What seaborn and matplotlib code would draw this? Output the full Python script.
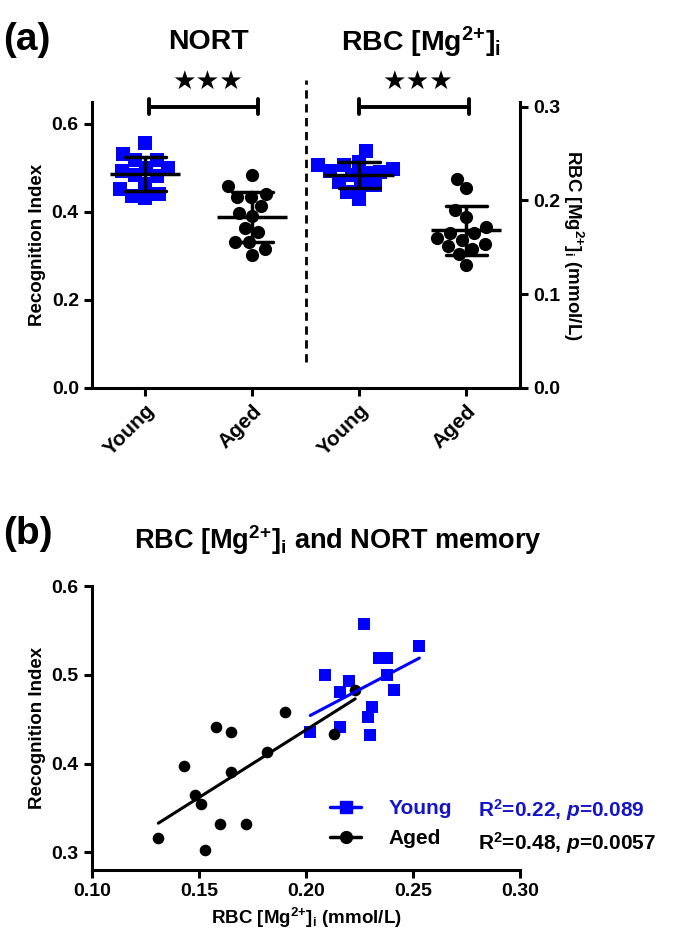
import numpy as np
import pandas as pd
import seaborn as sns
import matplotlib.pyplot as plt
from matplotlib.lines import Line2D

# ------------------------------------------------------------
# values (same 14 + 14 animals in both panels)
# ------------------------------------------------------------
young_mg = [0.202, 0.209, 0.216, 0.220, 0.216, 0.227, 0.229,
            0.231, 0.230, 0.234, 0.238, 0.238, 0.241, 0.253]
young_ri = [0.436, 0.500, 0.481, 0.493, 0.441, 0.557, 0.453,
            0.464, 0.432, 0.519, 0.519, 0.500, 0.483, 0.532]
aged_mg = [0.131, 0.153, 0.143, 0.148, 0.151, 0.158, 0.160,
           0.165, 0.165, 0.172, 0.182, 0.190, 0.213, 0.223]
aged_ri = [0.316, 0.303, 0.397, 0.364, 0.354, 0.441, 0.332,
           0.435, 0.390, 0.332, 0.413, 0.458, 0.433, 0.483]

groups = ["Young", "Aged"]
slots = ["NORT Young", "NORT Aged", "Mg Young", "Mg Aged"]
tick_labels = ["Young", "Aged", "Young", "Aged"]
MG = r"RBC [Mg$^{2{+}}$]$_{\mathrm{i}}$"
stats_text = [r"R$^{2}$=0.22, $\mathit{p}$=0.089", r"R$^{2}$=0.48, $\mathit{p}$=0.0057"]

BLUE = "#0000ff"
BLUE_TXT = "#1414c8"
colors = [BLUE, "black"]
markers = ["s", "o"]

sns.set_style("ticks")
plt.rcParams["font.family"] = ["Liberation Sans", "DejaVu Sans"]
plt.rcParams["font.weight"] = "bold"
plt.rcParams["axes.labelweight"] = "bold"
plt.rcParams["mathtext.fontset"] = "custom"
plt.rcParams["mathtext.rm"] = "Liberation Sans:bold"
plt.rcParams["mathtext.bf"] = "Liberation Sans:bold"
plt.rcParams["mathtext.it"] = "Liberation Sans:italic:bold"
plt.rcParams["mathtext.default"] = "rm"
plt.rcParams["axes.linewidth"] = 2.2
for k in ["text.color", "axes.labelcolor", "axes.edgecolor", "xtick.color", "ytick.color"]:
    plt.rcParams[k] = "black"

fig = plt.figure(figsize=(6.75, 9.46), dpi=100)

# ------------------------------------------------------------
# (a) scatter dot plots, NORT on the left axis, Mg on the right
# ------------------------------------------------------------
nort = pd.DataFrame({"slot": ["NORT Young"] * len(young_ri) + ["NORT Aged"] * len(aged_ri),
                     "value": young_ri + aged_ri})
mg = pd.DataFrame({"slot": ["Mg Young"] * len(young_mg) + ["Mg Aged"] * len(aged_mg),
                   "value": young_mg + aged_mg})

ax1 = fig.add_axes([0.1363, 0.5899, 0.634, 0.3023])
ax2 = ax1.twinx()

for ax, df, prefix in [(ax1, nort, "NORT"), (ax2, mg, "Mg")]:
    for g, col, mk in zip(groups, colors, markers):
        sns.swarmplot(data=df[df.slot == f"{prefix} {g}"], x="slot", y="value",
                      order=slots, color=col, marker=mk, size=9.5, linewidth=0,
                      ax=ax, zorder=2)
    sns.pointplot(data=df, x="slot", y="value", order=slots, errorbar="sd",
                  capsize=0.39, color="black", markers="_", linestyles="none",
                  markersize=50, markeredgewidth=2.5,
                  err_kws={"linewidth": 2.5, "zorder": 5}, ax=ax, zorder=5)

ax1.set_xlim(-0.5, 3.5)
ax1.set_ylim(0, 0.65)
ax2.set_ylim(0, 0.305)
ax1.set_yticks([0.0, 0.2, 0.4, 0.6])
ax1.set_yticklabels(["0.0", "0.2", "0.4", "0.6"])
ax2.set_yticks([0.0, 0.1, 0.2, 0.3])
ax2.set_yticklabels(["0.0", "0.1", "0.2", "0.3"])
ax1.set_xticks(range(4))
ax1.set_xticklabels(tick_labels, rotation=45, ha="right", rotation_mode="anchor")
ax1.set_xlabel("")
ax2.set_xlabel("")
ax1.set_ylabel("Recognition Index", fontsize=13.5)
ax2.set_ylabel(MG + " (mmol/L)", fontsize=13.5, rotation=270, labelpad=18)
ax2.yaxis.set_label_position("right")

for s in ["top", "right"]:
    ax1.spines[s].set_visible(False)
for s in ["top", "left", "bottom"]:
    ax2.spines[s].set_visible(False)
for ax in [ax1, ax2]:
    ax.tick_params(direction="out", length=6, width=2.2, labelsize=14)
ax1.tick_params(axis="x", labelsize=15)

# divider and significance brackets
ax1.plot([1.5, 1.5], [0.059, 0.70], ls=(0, (3, 2)), color="black", lw=2, clip_on=False)
for x0, x1 in [(0.03, 1.05), (2.0, 3.02)]:
    ax1.plot([x0, x1], [0.639, 0.639], color="black", lw=2.8, clip_on=False)
    for xe in (x0, x1):
        ax1.plot([xe, xe], [0.622, 0.656], color="black", lw=2.8, clip_on=False)

fig.text(0.004, 1 - 22 / 946, "(a)", fontsize=28, fontweight="bold", va="top")
fig.text(208 / 675, 1 - 42 / 946, "NORT", fontsize=20.5, fontweight="bold",
         ha="center", va="center")
fig.text(421 / 675, 1 - 42 / 946, MG, fontsize=20.5, fontweight="bold",
         ha="center", va="center")
for xc in (207.5, 418):
    fig.text(xc / 675, 1 - 81.5 / 946, "\u2605\u2605\u2605", fontsize=19,
             family=["DejaVu Sans"], ha="center", va="center")

# ------------------------------------------------------------
# (b) correlation of RBC Mg with recognition index
# ------------------------------------------------------------
axb = fig.add_axes([0.1363, 0.0803, 0.634, 0.3002])
for xs, ys, col, mk in [(young_mg, young_ri, BLUE, "s"), (aged_mg, aged_ri, "black", "o")]:
    sns.regplot(x=np.array(xs), y=np.array(ys), ci=None, marker=mk, color=col,
                scatter_kws={"s": 70, "linewidths": 0, "alpha": 1},
                line_kws={"linewidth": 2.2}, ax=axb)

axb.set_xlim(0.10, 0.30)
axb.set_ylim(0.28, 0.60)
axb.set_xticks([0.10, 0.15, 0.20, 0.25, 0.30])
axb.set_xticklabels(["0.10", "0.15", "0.20", "0.25", "0.30"])
axb.set_yticks([0.3, 0.4, 0.5, 0.6])
axb.set_yticklabels(["0.3", "0.4", "0.5", "0.6"])
axb.set_xlabel(MG + " (mmol/L)", fontsize=13.5)
axb.set_ylabel("Recognition Index", fontsize=13.5)
axb.spines["top"].set_visible(False)
axb.spines["right"].set_visible(False)
axb.tick_params(direction="out", length=6, width=2.2, labelsize=14)

handles = [Line2D([], [], color=BLUE, marker="s", markersize=8.5, lw=2.5),
           Line2D([], [], color="black", marker="o", markersize=8.5, lw=2.5)]
leg = fig.legend(handles, groups, loc="upper left", bbox_to_anchor=(330 / 675, 1 - 799 / 946),
                 frameon=False, fontsize=15, handlelength=1.5, handletextpad=1.3,
                 labelspacing=0.55, borderpad=0, borderaxespad=0)
for t, c in zip(leg.get_texts(), [BLUE_TXT, "black"]):
    t.set_color(c)
for txt, c, yy in zip(stats_text, [BLUE_TXT, "black"], [810, 843]):
    fig.text(478 / 675, 1 - yy / 946, txt, fontsize=15, color=c, va="center")

fig.text(0.004, 1 - 516 / 946, "(b)", fontsize=28, fontweight="bold", va="top")
fig.text(338 / 675, 1 - 540 / 946, MG + " and NORT memory",
         fontsize=19.5, fontweight="bold", ha="center", va="center")

fig.savefig("out.png", dpi=100)
